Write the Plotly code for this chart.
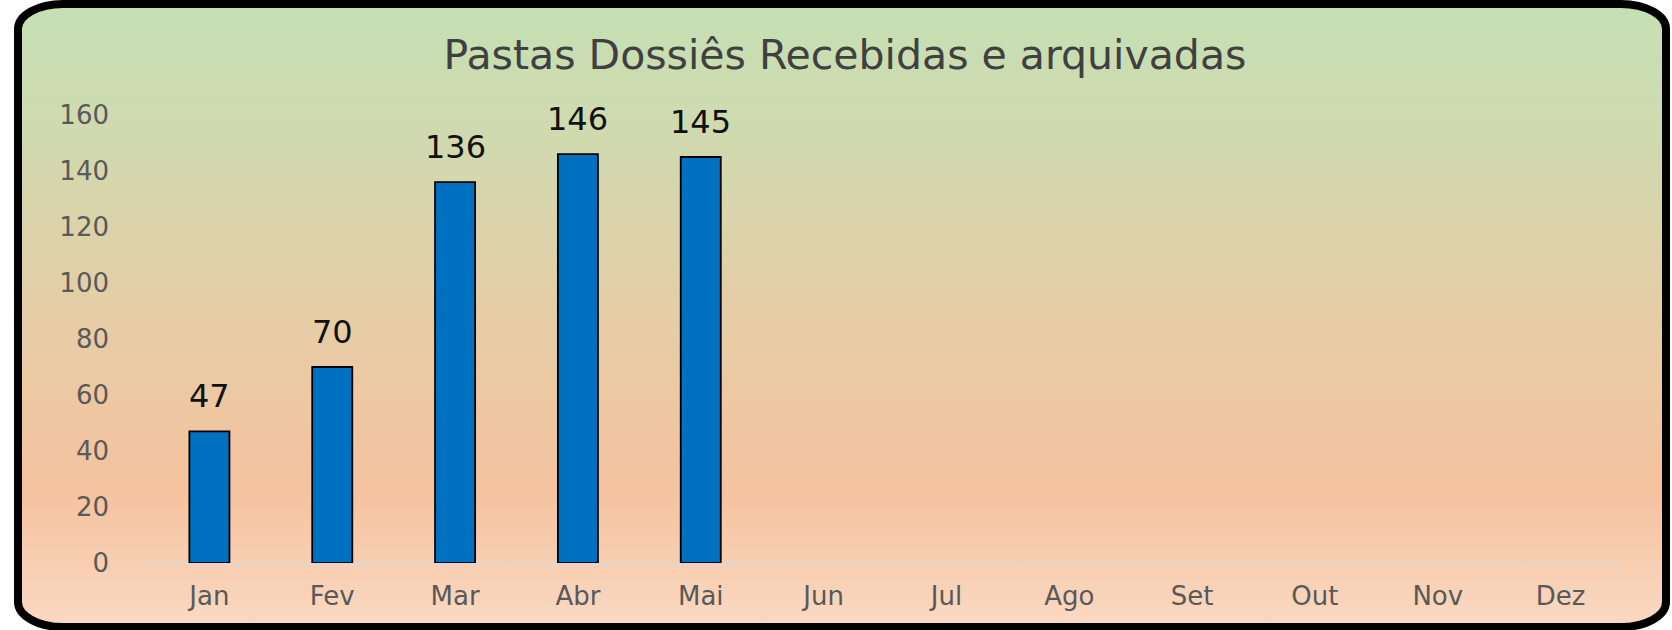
import base64
import plotly.graph_objects as go

months = ["Jan", "Fev", "Mar", "Abr", "Mai", "Jun", "Jul", "Ago", "Set", "Out", "Nov", "Dez"]
values = [47, 70, 136, 146, 145, None, None, None, None, None, None, None]
y_ticks = [0, 20, 40, 60, 80, 100, 120, 140, 160]
title_text = "Pastas Dossiês Recebidas e arquivadas"

W, H = 1672, 630
L, R, T, B = 148, 50, 115, 67
pw, ph = W - L - R, H - T - B

svg = f'''<svg xmlns="http://www.w3.org/2000/svg" width="{W}" height="{H}" viewBox="0 0 {W} {H}" preserveAspectRatio="none">
<defs><linearGradient id="g" x1="0" y1="0" x2="0" y2="1">
<stop offset="0" stop-color="#c5e0b4"/>
<stop offset="0.25" stop-color="#d3d8ae"/>
<stop offset="0.5" stop-color="#e6cda6"/>
<stop offset="0.78" stop-color="#f5c29f"/>
<stop offset="1" stop-color="#fad9c2"/>
</linearGradient></defs>
<rect x="18" y="4" width="{W-24}" height="{H-7}" rx="45" ry="25" fill="url(#g)" stroke="#000" stroke-width="8"/>
</svg>'''
src = "data:image/svg+xml;base64," + base64.b64encode(svg.encode()).decode()

fig = go.Figure()
fig.add_trace(go.Bar(
    x=months, y=values,
    marker=dict(color="#0070C0", line=dict(color="#000000", width=1.8)),
    hoverinfo="x+y",
))

for m, v in zip(months, values):
    if v is not None:
        fig.add_annotation(x=m, y=v, text=str(v), showarrow=False, yanchor="bottom",
                           yshift=14, font=dict(family="DejaVu Sans", size=32, color="#111111"))

fig.update_layout(
    width=W, height=H,
    margin=dict(l=L, r=R, t=T, b=B),
    paper_bgcolor="white",
    plot_bgcolor="rgba(0,0,0,0)",
    bargap=0.674,
    showlegend=False,
    title=dict(text=title_text, x=845 / W, xref="container", xanchor="center",
               y=1 - 55 / H, yref="container", yanchor="middle",
               font=dict(family="DejaVu Sans", size=41, color="#404040")),
    images=[dict(source=src, xref="paper", yref="paper",
                 x=-L / pw, y=1 + T / ph, sizex=W / pw, sizey=H / ph,
                 xanchor="left", yanchor="top", sizing="stretch", layer="below")],
    xaxis=dict(showgrid=False, showline=True, linecolor="#d9d9d9", linewidth=1.5,
               ticks="", tickfont=dict(family="DejaVu Sans", size=26, color="#595959"),
               ticklabelstandoff=9, fixedrange=True),
    yaxis=dict(range=[0, 160], tickvals=y_ticks, showgrid=False, zeroline=False,
               showline=False, ticks="",
               tickfont=dict(family="DejaVu Sans", size=26, color="#595959"),
               ticklabelstandoff=38, fixedrange=True),
)

fig.write_html("out.html", config={"displayModeBar": False},
               post_script="document.body.style.margin='0';document.body.style.overflow='hidden';")
